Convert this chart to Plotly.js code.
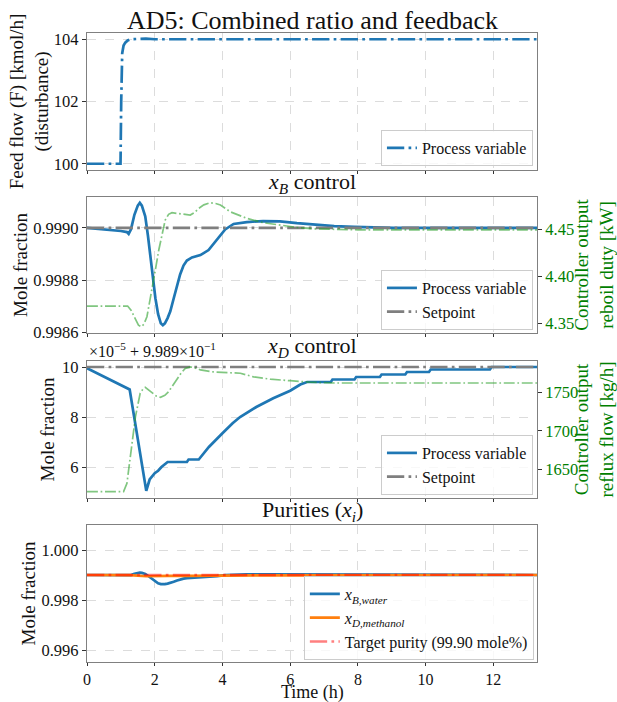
<!DOCTYPE html>
<html>
<head>
<meta charset="utf-8">
<script src="https://cdn.plot.ly/plotly-3.0.1.min.js"></script>
<style>html,body{margin:0;padding:0;background:#fff}#chart{width:617px;height:702px}</style>
</head>
<body>
<div id="chart"></div>
<script>
// ---- Data ----
const feedTime = [0, 0.99, 1.01, 1.04, 1.08, 1.13, 1.2, 1.28, 1.5, 1.74, 2.0, 2.3, 13.3];
const feedFlow = [100, 100, 102.0, 103.55, 103.8, 103.89, 103.96, 104.0, 104.01, 104.02, 104.0, 104.0, 104.0];

const xbTime = [0, 0.5, 1.0, 1.18, 1.23, 1.3, 1.4, 1.5, 1.56, 1.62, 1.72, 1.8, 1.87, 1.95, 2.02, 2.1, 2.18, 2.24, 2.3, 2.38, 2.46, 2.56, 2.66, 2.75, 2.85, 2.95, 3.10, 3.35, 3.59, 3.84, 4.08, 4.33, 4.72, 5.2, 5.7, 6.2, 6.74, 7.3, 7.89, 9.06, 13.3];
const xbWater = [0.999, 0.998995, 0.998988, 0.998984, 0.998977, 0.998995, 0.999050, 0.999085, 0.999096, 0.999085, 0.999044, 0.998970, 0.998893, 0.998805, 0.998731, 0.998670, 0.998635, 0.998628, 0.998635, 0.998655, 0.998681, 0.998730, 0.998781, 0.998822, 0.998856, 0.998875, 0.998887, 0.998896, 0.998915, 0.998956, 0.998994, 0.999015, 0.999022, 0.999026, 0.999025, 0.999018, 0.999012, 0.999007, 0.999004, 0.999000, 0.999];

const reboilTime = [0, 1.2, 1.3, 1.43, 1.52, 1.6, 1.68, 1.77, 1.92, 2.02, 2.12, 2.22, 2.31, 2.41, 2.51, 2.65, 2.85, 3.05, 3.18, 3.3, 3.45, 3.64, 3.8, 3.94, 4.23, 4.72, 5.21, 5.70, 6.2, 6.7, 8.0, 13.3];
const reboilDuty = [4.3684, 4.3684, 4.364, 4.3535, 4.348, 4.3464, 4.349, 4.357, 4.3854, 4.407, 4.428, 4.447, 4.4599, 4.466, 4.4677, 4.467, 4.4663, 4.4652, 4.468, 4.4723, 4.476, 4.4783, 4.4775, 4.4759, 4.4687, 4.4617, 4.457, 4.4546, 4.452, 4.4505, 4.4495, 4.4495];

const xdTime = [0, 0.3, 0.6, 0.9, 1.1, 1.26, 1.75, 1.85, 2.0, 2.1, 2.2, 2.38, 2.95, 3.0, 3.3, 3.6, 4.0, 4.3, 4.52, 5.0, 5.5, 6.0, 6.3, 6.5, 7.2, 7.25, 7.9, 7.95, 8.65, 8.7, 9.4, 9.45, 10.1, 10.15, 11.9, 11.95, 13.3];
const xdMethanol = [0.9989995, 0.9989975, 0.9989955, 0.9989935, 0.998992, 0.998991, 0.9989505, 0.998955, 0.9989575, 0.9989585, 0.99896, 0.998962, 0.998962, 0.998963, 0.998963, 0.998968, 0.9989735, 0.9989775, 0.99898, 0.998984, 0.9989875, 0.9989905, 0.998993, 0.998994, 0.998994, 0.998995, 0.998995, 0.998996, 0.998996, 0.998997, 0.998997, 0.998998, 0.998998, 0.998999, 0.998999, 0.999, 0.999];

const refluxTime = [0, 1.08, 1.18, 1.28, 1.43, 1.57, 1.65, 1.72, 1.82, 1.92, 2.05, 2.17, 2.3, 2.41, 2.53, 2.66, 2.78, 2.90, 3.05, 3.2, 3.35, 3.74, 4.13, 4.53, 4.92, 5.41, 6.0, 6.59, 7.3, 13.3];
const refluxFlow = [1620.9, 1620.9, 1631.8, 1666, 1718, 1748.7, 1754, 1756.5, 1753, 1748.7, 1745, 1743.5, 1746, 1750.8, 1759, 1768, 1775, 1781, 1783, 1781.5, 1779, 1776.4, 1776, 1774.7, 1770, 1767, 1765, 1763, 1762, 1762];

const spTime = [0, 13.3];
const xbSetpoint = [0.999, 0.999];
const xdSetpoint = [0.999, 0.999];
const targetPurity = [0.999, 0.999];

const timeTicks = [0, 2, 4, 6, 8, 10, 12];
const feedTicks = [100, 102, 104];
const xbTickVals = [0.9986, 0.9988, 0.9990];
const xbTickText = ['0.9986', '0.9988', '0.9990'];
const reboilTicks = [4.35, 4.40, 4.45];
const reboilTickText = ['4.35', '4.40', '4.45'];
const xdTickVals = [0.99896, 0.99898, 0.99900];
const xdTickText = ['6', '8', '10'];
const refluxTicks = [1650, 1700, 1750];
const purityTickVals = [0.996, 0.998, 1.000];
const purityTickText = ['0.996', '0.998', '1.000'];

// ---- Styling ----
const FONT = 'Liberation Serif, Times New Roman, serif';
const BLUE = '#1f77b4', GREY = '#7f7f7f', GREENL = 'rgba(44,160,44,0.6)', GREEN = '#008000';
const dashdot = (lw) => `${(6.4*lw).toFixed(1)}px,${(1.6*lw).toFixed(1)}px,${(1*lw).toFixed(1)}px,${(1.6*lw).toFixed(1)}px`;

const data = [
  {x: feedTime, y: feedFlow, xaxis: 'x', yaxis: 'y', mode: 'lines', name: 'Process variable', legend: 'legend',
   line: {color: BLUE, width: 2.7, dash: dashdot(2.7)}},

  {x: reboilTime, y: reboilDuty, xaxis: 'x2', yaxis: 'y3', mode: 'lines', showlegend: false,
   line: {color: GREENL, width: 1.7, dash: dashdot(1.7)}},
  {x: xbTime, y: xbWater, xaxis: 'x2', yaxis: 'y2', mode: 'lines', name: 'Process variable', legend: 'legend2',
   line: {color: BLUE, width: 2.7}},
  {x: spTime, y: xbSetpoint, xaxis: 'x2', yaxis: 'y2', mode: 'lines', name: 'Setpoint', legend: 'legend2',
   line: {color: GREY, width: 2.7, dash: dashdot(2.7)}},

  {x: refluxTime, y: refluxFlow, xaxis: 'x3', yaxis: 'y5', mode: 'lines', showlegend: false,
   line: {color: GREENL, width: 1.7, dash: dashdot(1.7)}},
  {x: xdTime, y: xdMethanol, xaxis: 'x3', yaxis: 'y4', mode: 'lines', name: 'Process variable', legend: 'legend3',
   line: {color: BLUE, width: 2.7}},
  {x: spTime, y: xdSetpoint, xaxis: 'x3', yaxis: 'y4', mode: 'lines', name: 'Setpoint', legend: 'legend3',
   line: {color: GREY, width: 2.7, dash: dashdot(2.7)}},

  {x: xbTime, y: xbWater, xaxis: 'x4', yaxis: 'y6', mode: 'lines', name: '<i>x</i><sub><i>B,water</i></sub>', legend: 'legend4',
   line: {color: BLUE, width: 2.7}},
  {x: xdTime, y: xdMethanol, xaxis: 'x4', yaxis: 'y6', mode: 'lines', name: '<i>x</i><sub><i>D,methanol</i></sub>', legend: 'legend4',
   line: {color: '#ff7f0e', width: 2.7}},
  {x: spTime, y: targetPurity, xaxis: 'x4', yaxis: 'y6', mode: 'lines', name: 'Target purity (99.90 mole%)', legend: 'legend4',
   line: {color: 'rgba(255,0,0,0.5)', width: 2.7, dash: dashdot(2.7)}}
];

const H = 629; // plot area height (702 - 33 - 40)
const dom = (topPx, botPx) => [(662 - botPx) / H, (662 - topPx) / H];

const xBase = (anchor, showLabels) => ({
  anchor: anchor, domain: [0, 1], range: [0, 13.29], tickvals: timeTicks,
  showticklabels: showLabels, ticks: 'outside', ticklen: 3, tickcolor: '#333', tickwidth: 1,
  showline: true, mirror: true, linecolor: '#808080', linewidth: 1.2,
  showgrid: true, gridcolor: '#d3d3d3', griddash: 'dash', gridwidth: 0.8, zeroline: false,
  tickfont: {family: FONT, size: 16, color: '#111'}
});
const yBase = (anchor, domain, range, tv, tt) => ({
  anchor: anchor, domain: domain, range: range, tickvals: tv, ticktext: tt,
  ticks: 'outside', ticklen: 4, tickcolor: '#333', tickwidth: 1,
  showline: true, mirror: true, linecolor: '#808080', linewidth: 1.2,
  showgrid: true, gridcolor: '#d3d3d3', griddash: 'dash', gridwidth: 0.8, zeroline: false,
  tickfont: {family: FONT, size: 16.5, color: '#111'},
  title: {font: {family: FONT, size: 19, color: '#111'}}
});
const yRight = (overlay, range, tv, tt, label) => ({
  overlaying: overlay, side: 'right', anchor: overlay === 'y2' ? 'x2' : 'x3', range: range, tickvals: tv, ticktext: tt,
  ticks: 'outside', ticklen: 4, tickcolor: '#333', tickwidth: 1, showline: false, showgrid: false, zeroline: false,
  tickfont: {family: FONT, size: 16.5, color: GREEN},
  title: {text: label, font: {family: FONT, size: 19, color: GREEN}, standoff: 4}
});

const legendBase = (x, y) => ({
  x: x, xanchor: 'right', y: y, yanchor: 'bottom', bgcolor: 'rgba(255,255,255,0.8)',
  bordercolor: '#cccccc', borderwidth: 1, font: {family: FONT, size: 16, color: '#111'}
});

const layout = {
  width: 617, height: 702,
  margin: {l: 87, r: 80, t: 33, b: 40},
  paper_bgcolor: '#fff', plot_bgcolor: '#fff',
  font: {family: FONT, color: '#111'},
  xaxis: xBase('y', false),
  xaxis2: xBase('y2', false),
  xaxis3: xBase('y4', false),
  xaxis4: xBase('y6', true),
  yaxis: Object.assign(yBase('x', dom(33, 170), [99.8, 104.2], feedTicks, null),
    {title: {text: 'Feed flow (F) [kmol/h]<br>(disturbance)', font: {family: FONT, size: 19, color: '#111'}, standoff: 0}}),
  yaxis2: Object.assign(yBase('x2', dom(197, 333), [0.998598, 0.999118], xbTickVals, xbTickText),
    {title: {text: 'Mole fraction', font: {family: FONT, size: 19, color: '#111'}, standoff: 0}}),
  yaxis3: yRight('y2', [4.3397, 4.4844], reboilTicks, reboilTickText, 'Controller output<br>reboil duty [kW]'),
  yaxis4: Object.assign(yBase('x3', dom(361, 498), [0.9989476, 0.9990024], xdTickVals, xdTickText),
    {title: {text: 'Mole fraction', font: {family: FONT, size: 19, color: '#111'}, standoff: 2}}),
  yaxis5: yRight('y4', [1612.7, 1790.6], refluxTicks, null, 'Controller output<br>reflux flow [kg/h]'),
  yaxis6: Object.assign(yBase('x4', dom(525, 662), [0.99552, 1.0010], purityTickVals, purityTickText),
    {title: {text: 'Mole fraction', font: {family: FONT, size: 19, color: '#111'}, standoff: 0}}),
  legend: legendBase(0.991, (662 - 166) / H),
  legend2: legendBase(0.991, (662 - 330) / H),
  legend3: legendBase(0.991, (662 - 495) / H),
  legend4: legendBase(0.993, (662 - 660) / H),
  annotations: [
    {text: 'AD5: Combined ratio and feedback', xref: 'paper', yref: 'paper', x: 0.5, y: (662 - 21) / H,
     xanchor: 'center', yanchor: 'middle', showarrow: false, font: {family: FONT, size: 26, color: '#111'}},
    {text: '<i>x</i><sub><i>B</i></sub> control', xref: 'paper', yref: 'paper', x: 0.5, y: (662 - 199) / H,
     xanchor: 'center', yanchor: 'bottom', showarrow: false, font: {family: FONT, size: 22, color: '#111'}},
    {text: '<i>x</i><sub><i>D</i></sub> control', xref: 'paper', yref: 'paper', x: 0.5, y: (662 - 363) / H,
     xanchor: 'center', yanchor: 'bottom', showarrow: false, font: {family: FONT, size: 22, color: '#111'}},
    {text: 'Purities (<i>x</i><sub><i>i</i></sub>)', xref: 'paper', yref: 'paper', x: 0.5, y: (662 - 527) / H,
     xanchor: 'center', yanchor: 'bottom', showarrow: false, font: {family: FONT, size: 22, color: '#111'}},
    {text: '×10<sup>−5</sup> + 9.989×10<sup>−1</sup>', xref: 'paper', yref: 'paper', x: 0, y: (662 - 362) / H,
     xanchor: 'left', yanchor: 'bottom', showarrow: false, font: {family: FONT, size: 16, color: '#111'}},
    {text: 'Time (h)', xref: 'paper', yref: 'paper', x: 0.5, y: (662 - 702) / H, yshift: -2, borderpad: 0,
     xanchor: 'center', yanchor: 'bottom', showarrow: false, font: {family: FONT, size: 18, color: '#111'}}
  ]
};

Plotly.newPlot('chart', data, layout, {staticPlot: true, displayModeBar: false});
</script>
</body>
</html>
